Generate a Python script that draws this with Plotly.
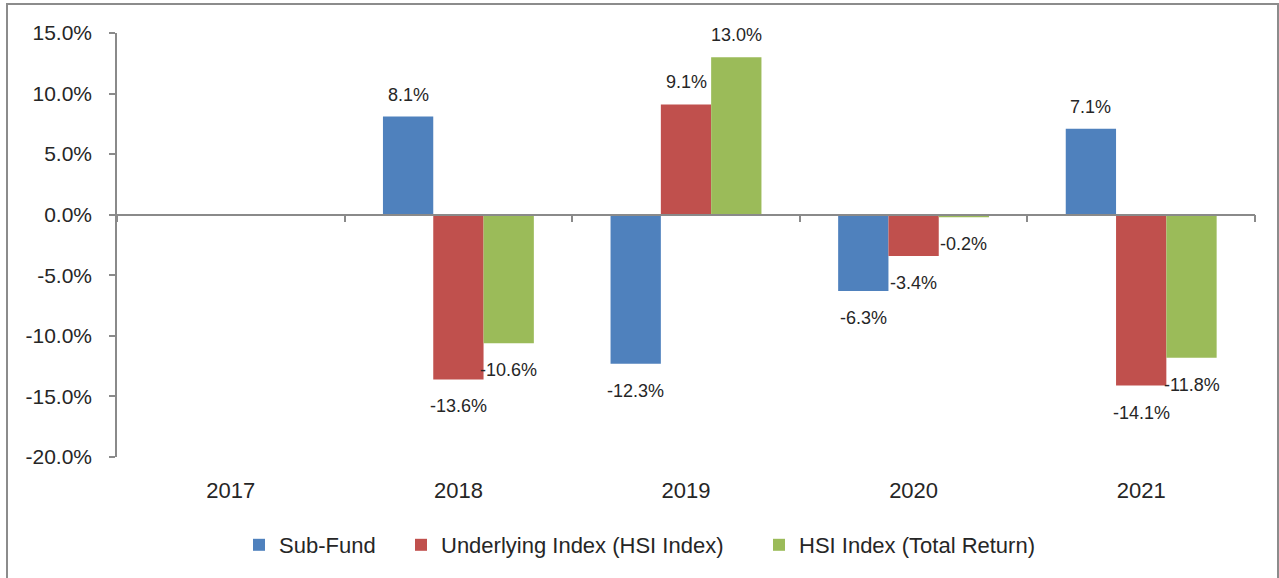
import plotly.graph_objects as go

years = ["2017", "2018", "2019", "2020", "2021"]
sub_fund = [None, 8.1, -12.3, -6.3, 7.1]
underlying = [None, -13.6, 9.1, -3.4, -14.1]
hsi_tr = [None, -10.6, 13.0, -0.2, -11.8]
series_names = ["Sub-Fund", "Underlying Index (HSI Index)", "HSI Index (Total Return)"]
colors = ["#4F81BD", "#C0504D", "#9BBB59"]
y_ticks = [15, 10, 5, 0, -5, -10, -15, -20]

W, H = 1279, 578
ML, MR, MT, MB = 117, 24, 33, 121
PW, PH = W - ML - MR, H - MT - MB
BARGAP = 0.337
FONT = "Liberation Sans"
TXT = "#262626"
AXC = "#8a8a8a"

fig = go.Figure()
all_series = [sub_fund, underlying, hsi_tr]
legend_ids = ["legend", "legend2", "legend3"]
for k, (vals, name, col) in enumerate(zip(all_series, series_names, colors)):
    fig.add_trace(go.Bar(
        x=years, y=vals, name=name, marker=dict(color=col, line=dict(width=0)),
        legend=legend_ids[k], hoverinfo="skip"))

# invisible trace to carry the zero-line category axis
fig.add_trace(go.Scatter(x=years, y=[None] * len(years), xaxis="x2", yaxis="y",
                         mode="markers", showlegend=False, hoverinfo="skip"))

# data labels
bw = (1 - BARGAP) / 3
for k, vals in enumerate(all_series):
    for i, v in enumerate(vals):
        if v is None:
            continue
        fig.add_annotation(
            x=i + (k - 1) * bw, y=v, xref="x", yref="y",
            text=f"{v:.1f}%", showarrow=False,
            yshift=22 if v >= 0 else -27, yanchor="middle", xanchor="center",
            font=dict(family=FONT, size=18, color=TXT))

zero_pos = (0 - min(y_ticks)) / (max(y_ticks) - min(y_ticks))

fig.update_layout(
    width=W, height=H,
    margin=dict(l=ML, r=MR, t=MT, b=MB, pad=0, autoexpand=False),
    paper_bgcolor="white", plot_bgcolor="white",
    font=dict(family=FONT, size=22, color=TXT),
    barmode="group", bargap=BARGAP, bargroupgap=0,
    xaxis=dict(type="category", categoryorder="array", categoryarray=years,
               showline=False, showgrid=False, zeroline=False,
               ticks="outside", ticklen=14, tickcolor="rgba(0,0,0,0)",
               tickfont=dict(size=22, color=TXT)),
    xaxis2=dict(type="category", categoryorder="array", categoryarray=years,
                overlaying="x", matches="x", anchor="free", position=zero_pos,
                showline=True, linecolor=AXC, linewidth=1.5,
                ticks="outside", tickson="boundaries", ticklen=7, tickcolor=AXC,
                tickwidth=1.5, showticklabels=False, showgrid=False, zeroline=False),
    yaxis=dict(range=[min(y_ticks), max(y_ticks)], tickvals=y_ticks,
               ticktext=[f"{t:.1f}%" for t in y_ticks],
               showline=True, linecolor=AXC, linewidth=1.5,
               ticks="outside", ticklen=6, tickcolor=AXC, tickwidth=1.5,
               ticklabelstandoff=13,
               showgrid=False, zeroline=False,
               tickfont=dict(size=21, color=TXT)),
    showlegend=True,
)

leg_y = (MT + PH - 545) / PH
for lid, text_px in zip(legend_ids, [279, 441, 799]):
    fig.update_layout({lid: dict(
        orientation="h", x=(text_px - 40 - ML) / PW, xanchor="left",
        y=leg_y, yanchor="middle", bgcolor="rgba(0,0,0,0)",
        font=dict(family=FONT, size=22, color=TXT))})

# outer chart border
fig.add_shape(type="rect", xref="paper", yref="paper",
              x0=(7 - ML) / PW, x1=(1278 - ML) / PW,
              y0=(MT + PH - 590) / PH, y1=(MT + PH - 4) / PH,
              line=dict(color="#8c8c8c", width=2), fillcolor="rgba(0,0,0,0)",
              layer="below")

fig.write_html("out.html", config={"displayModeBar": False},
               post_script="document.body.style.margin='0';document.body.style.overflow='hidden';")
